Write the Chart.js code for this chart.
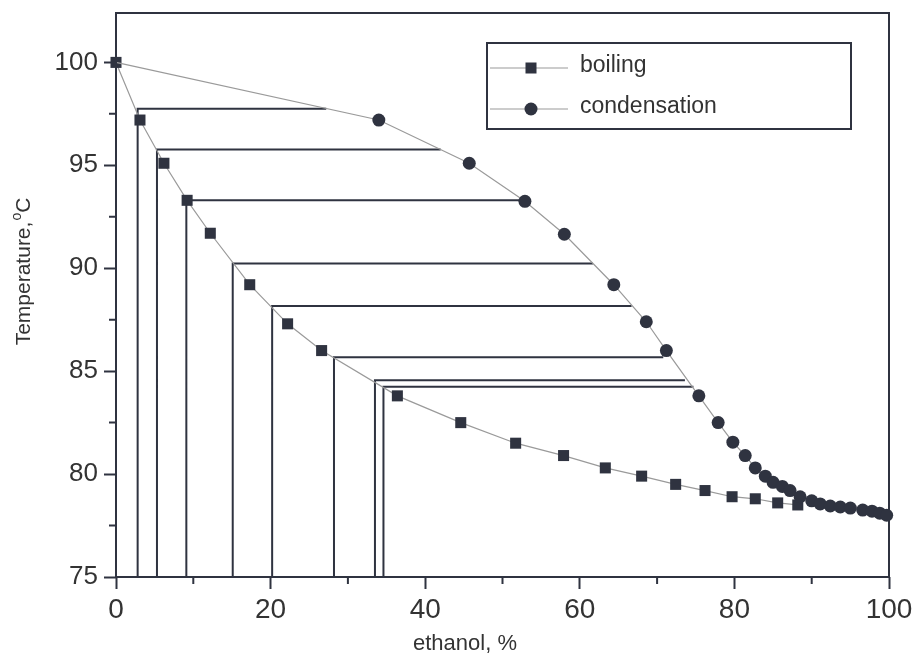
<!DOCTYPE html>
<html><head><meta charset="utf-8">
<script src="https://cdn.jsdelivr.net/npm/chart.js@4"></script>
<style>html,body{margin:0;padding:0;background:#fff;}#wrap{width:916px;height:660px;}</style>
</head><body><div id="wrap"><canvas id="c" width="916" height="660"></canvas></div>
<script>
// ---- data ----
const boilingX = [0, 3.1, 6.2, 9.2, 12.2, 17.3, 22.2, 26.6, 36.4, 44.6, 51.7, 57.9, 63.3, 68.0, 72.4, 76.2, 79.7, 82.7, 85.6, 88.2];
const boilingY = [100, 97.2, 95.1, 93.3, 91.7, 89.2, 87.3, 86.0, 83.8, 82.5, 81.5, 80.9, 80.3, 79.9, 79.5, 79.2, 78.9, 78.8, 78.6, 78.5];
const condX = [0, 34.0, 45.7, 52.9, 58.0, 64.4, 68.6, 71.2, 75.4, 77.9, 79.8, 81.4, 82.7, 84.0, 85.0, 86.2, 87.2, 88.5, 90.0, 91.1, 92.4, 93.7, 95.0, 96.6, 97.8, 98.8, 99.7];
const condY = [100, 97.2, 95.1, 93.25, 91.65, 89.2, 87.4, 86.0, 83.8, 82.5, 81.55, 80.9, 80.3, 79.9, 79.6, 79.4, 79.2, 78.9, 78.7, 78.55, 78.45, 78.4, 78.35, 78.25, 78.2, 78.1, 78.0];
const tieX = [2.8, 5.3, 9.1, 15.1, 20.2, 28.2, 33.5, 34.6];
const tieY = [97.75, 95.77, 93.3, 90.23, 88.16, 85.68, 84.56, 84.24];
const tieEndX = [27.2, 42.0, 52.9, 61.7, 66.7, 70.8, 73.6, 74.7];
const xTicks = [0, 20, 40, 60, 80, 100];
const xMinorTicks = [10, 30, 50, 70, 90];
const yTicks = [75, 80, 85, 90, 95, 100];
const yMinorTicks = [77.5, 82.5, 87.5, 92.5, 97.5];
const seriesLabels = ['boiling', 'condensation'];
const xTitle = 'ethanol, %';
const yTitleParts = ['Temperature,', 'o', 'C'];

// ---- styles ----
const ink = '#2f3340';
const curve = '#9a9a9a';
const txt = '#333333';
const FONT = '"Liberation Sans", Arial, Helvetica, sans-serif';
const xMin = 0, xMax = 100, yMin = yTicks[0], yMax = 102.4;

const tieData = [];
tieX.forEach((x, i) => {
  tieData.push({x: x, y: yMin}, {x: x, y: tieY[i]}, {x: tieEndX[i], y: tieY[i]}, {x: x, y: null});
});

const decor = {
  id: 'decor',
  afterDraw(chart) {
    const ctx = chart.ctx, a = chart.chartArea;
    const xs = chart.scales.x, ys = chart.scales.y;
    ctx.save();
    // frame
    ctx.strokeStyle = ink; ctx.lineWidth = 2;
    ctx.strokeRect(a.left, a.top, a.right - a.left, a.bottom - a.top);
    // minor ticks
    ctx.lineWidth = 2;
    ctx.beginPath();
    xMinorTicks.forEach(v => { const p = xs.getPixelForValue(v); ctx.moveTo(p, a.bottom); ctx.lineTo(p, a.bottom + 7); });
    yMinorTicks.forEach(v => { const p = ys.getPixelForValue(v); ctx.moveTo(a.left, p); ctx.lineTo(a.left - 7, p); });
    ctx.stroke();
    // legend
    const lb = {x0: 487, y0: 43, x1: 851, y1: 129};
    ctx.strokeStyle = ink; ctx.lineWidth = 2;
    ctx.strokeRect(lb.x0, lb.y0, lb.x1 - lb.x0, lb.y1 - lb.y0);
    const rows = [68, 109];
    const ds = [chart.data.datasets[1], chart.data.datasets[2]];
    ds.forEach((d, i) => {
      const y = rows[i];
      ctx.strokeStyle = curve; ctx.lineWidth = 1.2;
      ctx.beginPath(); ctx.moveTo(490, y); ctx.lineTo(568, y); ctx.stroke();
      ctx.fillStyle = ink;
      if (d.pointStyle === 'rect') { ctx.fillRect(531 - 5.5, y - 5.5, 11, 11); }
      else { ctx.beginPath(); ctx.arc(531, y, 6.5, 0, Math.PI * 2); ctx.fill(); }
      ctx.fillStyle = txt; ctx.font = '23px ' + FONT; ctx.textBaseline = 'middle'; ctx.textAlign = 'left';
      ctx.fillText(d.label, 580, y - 2);
    });
    // x title
    ctx.fillStyle = txt; ctx.font = '22px ' + FONT; ctx.textAlign = 'center'; ctx.textBaseline = 'middle';
    ctx.fillText(xTitle, 465, 644);
    // y title with superscript
    ctx.translate(24, 272); ctx.rotate(-Math.PI / 2);
    ctx.textAlign = 'left';
    ctx.font = '21px ' + FONT; const w1 = ctx.measureText(yTitleParts[0]).width; const w3 = ctx.measureText(yTitleParts[2]).width;
    ctx.font = '14px ' + FONT; const w2 = ctx.measureText(yTitleParts[1]).width;
    let s = -(w1 + w2 + w3) / 2;
    ctx.font = '21px ' + FONT; ctx.fillText(yTitleParts[0], s, 0);
    ctx.font = '14px ' + FONT; ctx.fillText(yTitleParts[1], s + w1 + 1, -7);
    ctx.font = '21px ' + FONT; ctx.fillText(yTitleParts[2], s + w1 + w2 + 1, 0);
    ctx.restore();
  }
};

new Chart(document.getElementById('c').getContext('2d'), {
  type: 'scatter',
  data: {
    datasets: [
      {label: 'tie', data: tieData, showLine: true, spanGaps: false, borderColor: ink, borderWidth: 2,
       pointRadius: 0, order: 3, clip: false},
      {label: seriesLabels[0], data: boilingX.map((x, i) => ({x: x, y: boilingY[i]})), showLine: true,
       borderColor: curve, borderWidth: 1.2, pointStyle: 'rect', pointRadius: 7.8,
       pointBackgroundColor: ink, pointBorderColor: ink, pointBorderWidth: 0, order: 1, clip: false},
      {label: seriesLabels[1], data: condX.map((x, i) => ({x: x, y: condY[i]})), showLine: true,
       borderColor: curve, borderWidth: 1.2, pointStyle: 'circle',
       pointRadius: c => (c.dataIndex === 0 ? 0 : 6.5),
       pointBackgroundColor: ink, pointBorderColor: ink, pointBorderWidth: 0, order: 0, clip: false}
    ]
  },
  options: {
    responsive: false, animation: false, devicePixelRatio: 1,
    layout: {padding: {left: 0, right: 27, top: 13, bottom: 0}},
    plugins: {legend: {display: false}, tooltip: {enabled: false}},
    elements: {line: {tension: 0}},
    scales: {
      x: {type: 'linear', min: xMin, max: xMax,
        afterBuildTicks: s => { s.ticks = xTicks.map(v => ({value: v})); },
        afterFit: s => { s.height = 83; s.paddingLeft = 0; s.paddingRight = 0; },
        border: {display: false},
        grid: {display: true, drawOnChartArea: false, drawTicks: true, tickLength: 12, tickWidth: 2, tickColor: ink, color: ink},
        ticks: {font: {family: FONT, size: 28}, color: txt, padding: 4, maxRotation: 0, autoSkip: false}
      },
      y: {type: 'linear', min: yMin, max: yMax,
        afterBuildTicks: s => { s.ticks = yTicks.map(v => ({value: v})); },
        afterFit: s => { s.width = 116; s.paddingTop = 0; s.paddingBottom = 0; },
        border: {display: false},
        grid: {display: true, drawOnChartArea: false, drawTicks: true, tickLength: 12, tickWidth: 2, tickColor: ink, color: ink},
        ticks: {font: {family: FONT, size: 26}, color: txt, padding: 6, autoSkip: false}
      }
    }
  },
  plugins: [decor]
});
</script>
</body></html>
